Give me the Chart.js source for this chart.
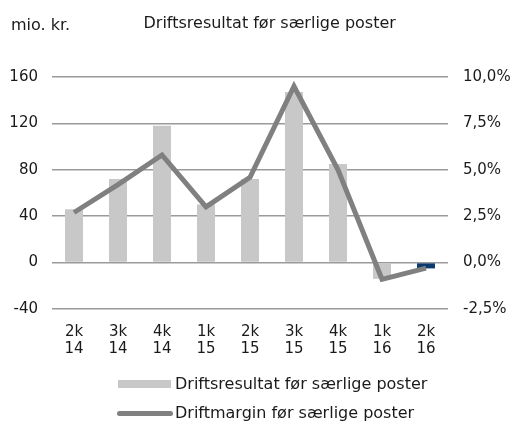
<!DOCTYPE html>
<html>
<head>
<meta charset="utf-8">
<script src="https://cdn.jsdelivr.net/npm/chart.js@4/dist/chart.umd.min.js"></script>
<style>
  html, body { margin: 0; padding: 0; background: #fff; }
  #wrap { position: relative; width: 517px; height: 423px; overflow: hidden; font-family: "DejaVu Sans", sans-serif; color: #1a1a1a; }
  #c { position: absolute; left: 0; top: 0; }
  .t { position: absolute; font-size: 16px; line-height: 16px; white-space: nowrap; }
  .sw { position: absolute; }
</style>
</head>
<body>
<div id="wrap">
  <canvas id="c" width="517" height="423"></canvas>
  <div class="t" style="left:11px; top:16.5px;">mio. kr.</div>
  <div class="t" style="left:143.5px; top:14.5px;">Driftsresultat før særlige poster</div>
  <div class="sw" style="left:118px; top:380px; width:53px; height:8px; background:#c8c8c8;"></div>
  <div class="t" style="left:175px; top:376px;">Driftsresultat før særlige poster</div>
  <div class="sw" style="left:117px; top:411px; width:56px; height:5px; border-radius:3px; background:#808080;"></div>
  <div class="t" style="left:175px; top:404.5px;">Driftmargin før særlige poster</div>
</div>
<script>
const categories = [["2k","14"],["3k","14"],["4k","14"],["1k","15"],["2k","15"],["3k","15"],["4k","15"],["1k","16"],["2k","16"]];
const driftsresultat = [46, 72, 118, 50, 72, 147, 85, -14, -5];
const driftmargin = [2.7, 4.2, 5.8, 3.0, 4.6, 9.5, 5.0, -0.9, -0.3];
const leftTicks = [-40, 0, 40, 80, 120, 160];
const rightTicks = [-2.5, 0, 2.5, 5, 7.5, 10];

const barColors = driftsresultat.map((v, i) => i === driftsresultat.length - 1 ? '#0a3a70' : '#c8c8c8');
const FONT = { family: '"DejaVu Sans", sans-serif', size: 15 };

new Chart(document.getElementById('c'), {
  type: 'bar',
  data: {
    labels: categories,
    datasets: [
      {
        type: 'line',
        label: 'Driftmargin før særlige poster',
        data: driftmargin,
        yAxisID: 'yR',
        borderColor: '#808080',
        backgroundColor: '#808080',
        borderWidth: 5,
        pointRadius: 0,
        tension: 0,
        borderJoinStyle: 'miter',
        order: 0
      },
      {
        type: 'bar',
        label: 'Driftsresultat før særlige poster',
        data: driftsresultat,
        yAxisID: 'yL',
        backgroundColor: barColors,
        borderWidth: 0,
        categoryPercentage: 1,
        barPercentage: 0.41,
        order: 1
      }
    ]
  },
  options: {
    responsive: false,
    animation: false,
    devicePixelRatio: 1,
    layout: { padding: { left: 0, right: 0, top: 77, bottom: 0 } },
    plugins: { legend: { display: false }, title: { display: false }, tooltip: { enabled: false } },
    scales: {
      x: {
        grid: { display: false, drawTicks: false },
        border: { display: false },
        ticks: { color: '#1a1a1a', font: { ...FONT, lineHeight: 1.18 }, padding: 14, maxRotation: 0, autoSkip: false },
        afterFit: (s) => { s.height = 423 - 309; }
      },
      yL: {
        position: 'left',
        min: -40, max: 160,
        afterBuildTicks: (s) => { s.ticks = leftTicks.map(v => ({ value: v })); },
        grid: { color: '#9a9a9a', lineWidth: 1.5, drawTicks: false },
        border: { display: false },
        ticks: { color: '#1a1a1a', font: FONT, padding: 14 },
        afterFit: (s) => { s.width = 52; }
      },
      yR: {
        position: 'right',
        min: -2.5, max: 10,
        afterBuildTicks: (s) => { s.ticks = rightTicks.map(v => ({ value: v })); },
        grid: { display: false, drawTicks: false },
        border: { display: false },
        ticks: { color: '#1a1a1a', font: FONT, padding: 15, callback: (v) => v.toFixed(1).replace('.', ',') + '%' },
        afterFit: (s) => { s.width = 517 - 448; }
      }
    }
  }
});
</script>
</body>
</html>
